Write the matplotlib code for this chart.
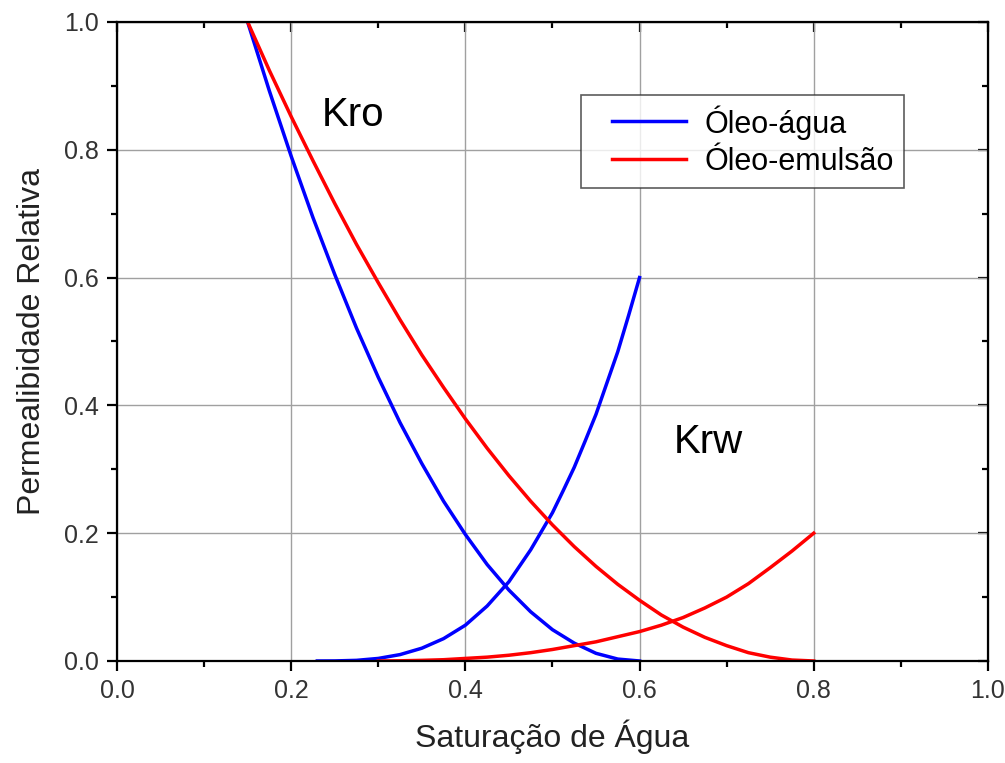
import numpy as np
import matplotlib
matplotlib.use("Agg")
import matplotlib.pyplot as plt
from matplotlib.ticker import MultipleLocator
from matplotlib.legend_handler import HandlerLine2D

plt.rcParams['font.family'] = ['Liberation Sans', 'DejaVu Sans']

# water saturation / relative permeability
sw_kro_ow = [0.15, 0.175, 0.2, 0.225, 0.25, 0.275, 0.3, 0.325, 0.35, 0.375, 0.4,
             0.425, 0.45, 0.475, 0.5, 0.525, 0.55, 0.575, 0.6]
kro_ow = [1.0, 0.892, 0.79, 0.694, 0.605, 0.521, 0.444, 0.373, 0.309, 0.25, 0.198,
          0.151, 0.111, 0.077, 0.049, 0.028, 0.012, 0.003, 0.0]

sw_krw_ow = [0.23, 0.25, 0.275, 0.3, 0.325, 0.35, 0.375, 0.4, 0.425, 0.45,
             0.475, 0.5, 0.5125, 0.525, 0.5375, 0.55, 0.5625, 0.575, 0.5875, 0.6]
krw_ow = [0.0, 0.0001, 0.001, 0.004, 0.01, 0.02, 0.035, 0.056, 0.086, 0.124,
          0.174, 0.232, 0.267, 0.303, 0.344, 0.386, 0.435, 0.484, 0.541, 0.6]

sw_kro_oe = [0.15, 0.175, 0.2, 0.225, 0.25, 0.275, 0.3, 0.325, 0.35, 0.375, 0.4,
             0.425, 0.45, 0.475, 0.5, 0.525, 0.55, 0.575, 0.6, 0.625, 0.65,
             0.675, 0.7, 0.725, 0.75, 0.775, 0.8]
kro_oe = [1.0, 0.924, 0.852, 0.783, 0.716, 0.652, 0.592, 0.534, 0.479, 0.428, 0.379,
          0.333, 0.29, 0.25, 0.213, 0.179, 0.148, 0.12, 0.095, 0.072, 0.053,
          0.037, 0.024, 0.013, 0.006, 0.0015, 0.0]

sw_krw_oe = [0.3, 0.325, 0.35, 0.375, 0.4, 0.425, 0.45, 0.475, 0.5, 0.525, 0.55,
             0.575, 0.6, 0.625, 0.65, 0.675, 0.7, 0.725, 0.75, 0.775, 0.8]
krw_oe = [0.0, 0.0003, 0.001, 0.002, 0.004, 0.006, 0.009, 0.013, 0.018, 0.024, 0.03,
          0.038, 0.046, 0.056, 0.068, 0.083, 0.1, 0.121, 0.146, 0.172, 0.2]

fig = plt.figure(figsize=(10.05, 7.63), dpi=100)
ax = fig.add_axes([0.1164, 0.1337, 0.8666, 0.8375])

lw = 2.5
ax.plot(sw_kro_ow, kro_ow, color='#0000ff', lw=lw, label='Óleo-água')
ax.plot(sw_krw_ow, krw_ow, color='#0000ff', lw=lw)
ax.plot(sw_kro_oe, kro_oe, color='#ff0000', lw=lw, label='Óleo-emulsão')
ax.plot(sw_krw_oe, krw_oe, color='#ff0000', lw=lw)

ax.set_xlim(0, 1)
ax.set_ylim(0, 1)
ax.xaxis.set_major_locator(MultipleLocator(0.2))
ax.xaxis.set_minor_locator(MultipleLocator(0.1))
ax.yaxis.set_major_locator(MultipleLocator(0.2))
ax.yaxis.set_minor_locator(MultipleLocator(0.1))
ax.grid(True, which='major', color='#a0a0a0', lw=1.0)
ax.set_axisbelow(True)

for s in ax.spines.values():
    s.set_linewidth(1.6)
ax.tick_params(which='both', direction='out', width=1.6, labelsize=18,
               colors='black', labelcolor='#333333')
ax.tick_params(which='major', length=7, pad=6)
ax.tick_params(which='minor', length=4)

# mirrored ticks on top/right, pointing inward
axt = ax.secondary_xaxis('top')
axt.xaxis.set_major_locator(MultipleLocator(0.2))
axt.xaxis.set_minor_locator(MultipleLocator(0.1))
axt.tick_params(which='both', direction='in', width=1.6, labeltop=False)
axt.tick_params(which='major', length=7)
axt.tick_params(which='minor', length=4)
axr = ax.secondary_yaxis('right')
axr.yaxis.set_major_locator(MultipleLocator(0.2))
axr.yaxis.set_minor_locator(MultipleLocator(0.1))
axr.tick_params(which='both', direction='in', width=1.6, labelright=False)
axr.tick_params(which='major', length=7)
axr.tick_params(which='minor', length=4)

ax.set_xlabel('Saturação de Água', fontsize=23, labelpad=12, color='#222222')
ax.set_ylabel('Permealibidade Relativa', fontsize=23, labelpad=12, color='#222222')

ax.text(0.271, 0.855, 'Kro', fontsize=29, ha='center', va='center')
ax.text(0.679, 0.342, 'Krw', fontsize=29, ha='center', va='center')

# shorter legend line with some room on its left, like the original
hl = HandlerLine2D(xpad=0.66)
leg = ax.legend(loc='upper left', bbox_to_anchor=(0.533, 0.886), fontsize=22,
                frameon=True, fancybox=False, edgecolor='#333333',
                handlelength=3.08, borderpad=0.35, labelspacing=0.23,
                handletextpad=0.6, borderaxespad=0, handleheight=0.9,
                handler_map={plt.Line2D: hl})
leg.get_frame().set_linewidth(1.2)

fig.savefig('out.png', dpi=100)
